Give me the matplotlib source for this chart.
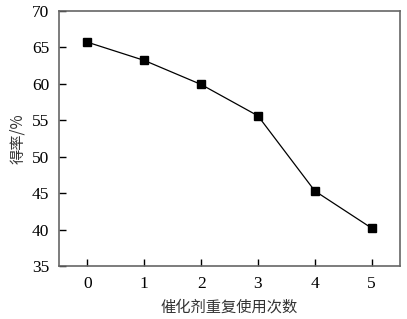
import matplotlib.pyplot as plt

# 催化剂重复使用次数 vs 得率
reuse_times = [0, 1, 2, 3, 4, 5]
yield_pct = [65.7, 63.2, 59.9, 55.6, 45.3, 40.2]

plt.rcParams['font.family'] = ['Liberation Serif', 'Noto Sans CJK SC']

fig = plt.figure(figsize=(4.07, 3.19), dpi=100)
ax = fig.add_axes([0.145, 0.166, 0.838, 0.80])

ax.plot(reuse_times, yield_pct, color='black', lw=0.9, marker='s', ms=5.5, mfc='black', mec='black')

ax.set_xlim(-0.5, 5.5)
ax.set_ylim(35, 70)
ax.set_xticks(reuse_times)
ax.set_yticks(range(35, 71, 5))
ax.tick_params(direction='in', length=5, width=1, labelsize=12.5, color='black', pad=7)
for s in ax.spines.values():
    s.set_color('#666666')
    s.set_linewidth(1.2)

ax.set_xlabel('催化剂重复使用次数', family=['Noto Sans CJK SC'], fontsize=11, color='#333333', labelpad=5)
ax.set_ylabel('得率/%', family=['Noto Sans CJK SC', 'Liberation Serif'], fontsize=11, color='#333333', labelpad=4)

fig.savefig('out.png', dpi=100)
